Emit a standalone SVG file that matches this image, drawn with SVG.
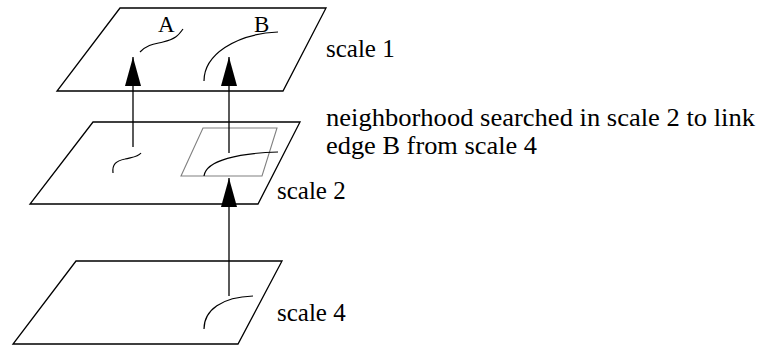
<svg xmlns="http://www.w3.org/2000/svg" width="760" height="347" viewBox="0 0 760 347">
<style>
.plane{fill:none;stroke:#000;stroke-width:1.3}
.hood{fill:none;stroke:#808080;stroke-width:1.1}
.edge{fill:none;stroke:#000;stroke-width:1.2}
.conn{fill:none;stroke:#000;stroke-width:1.3}
.t{font-family:'Liberation Serif',serif;font-size:25px;fill:#000}
.n{font-family:'Liberation Serif',serif;font-size:25px;fill:#000}
.l{font-family:'Liberation Serif',serif;font-size:23px;fill:#000}
</style>
<defs>
<marker id="arr" markerUnits="userSpaceOnUse" markerWidth="29" markerHeight="16" refX="29" refY="8" orient="auto">
<path d="M0,0 L29,8 L0,16 z" fill="#000"/>
</marker>
</defs>
<rect width="760" height="347" fill="#fff"/>
<g id="scale1">
<polygon class="plane" points="120,8 326,8 283,91 57,91"/>
<path class="edge" d="M140,52 C148,44 155,44 163,42 C175,39 178,36 183,29"/>
<path class="edge" d="M204,81 C204,55 235,34 278,32"/>
<text class="l" x="158" y="32">A</text>
<text class="l" x="254" y="32">B</text>
<text class="t" x="326" y="57">scale 1</text>
</g>
<g id="scale2">
<polygon class="plane" points="93,122 300,122 258,204 30,204"/>
<polygon class="hood" points="203,128 277,128 262,176 181,176"/>
<path class="edge" d="M113,173 C112,164 116,161 125,159 C133,157 138,157 141,153"/>
<path class="edge" d="M204,176 C206,160 240,153 278,152"/>
<text class="t" x="277" y="199">scale 2</text>
</g>
<g id="scale4">
<polygon class="plane" points="76,261 282,261 238,344 13,344"/>
<path class="edge" d="M204,329 C204,310 222,297 253,296"/>
<text class="t" x="277" y="321">scale 4</text>
</g>
<g id="note">
<text class="n" x="326" y="126" textLength="429" lengthAdjust="spacingAndGlyphs">neighborhood searched in scale 2 to link</text>
<text class="n" x="326" y="154" textLength="211" lengthAdjust="spacingAndGlyphs">edge B from scale 4</text>
</g>
<g id="connectors">
<path class="conn" d="M133,147 L133,57" marker-end="url(#arr)"/>
<path class="conn" d="M229,153 L229,57" marker-end="url(#arr)"/>
<path class="conn" d="M229,296 L229,178" marker-end="url(#arr)"/>
</g>
</svg>
